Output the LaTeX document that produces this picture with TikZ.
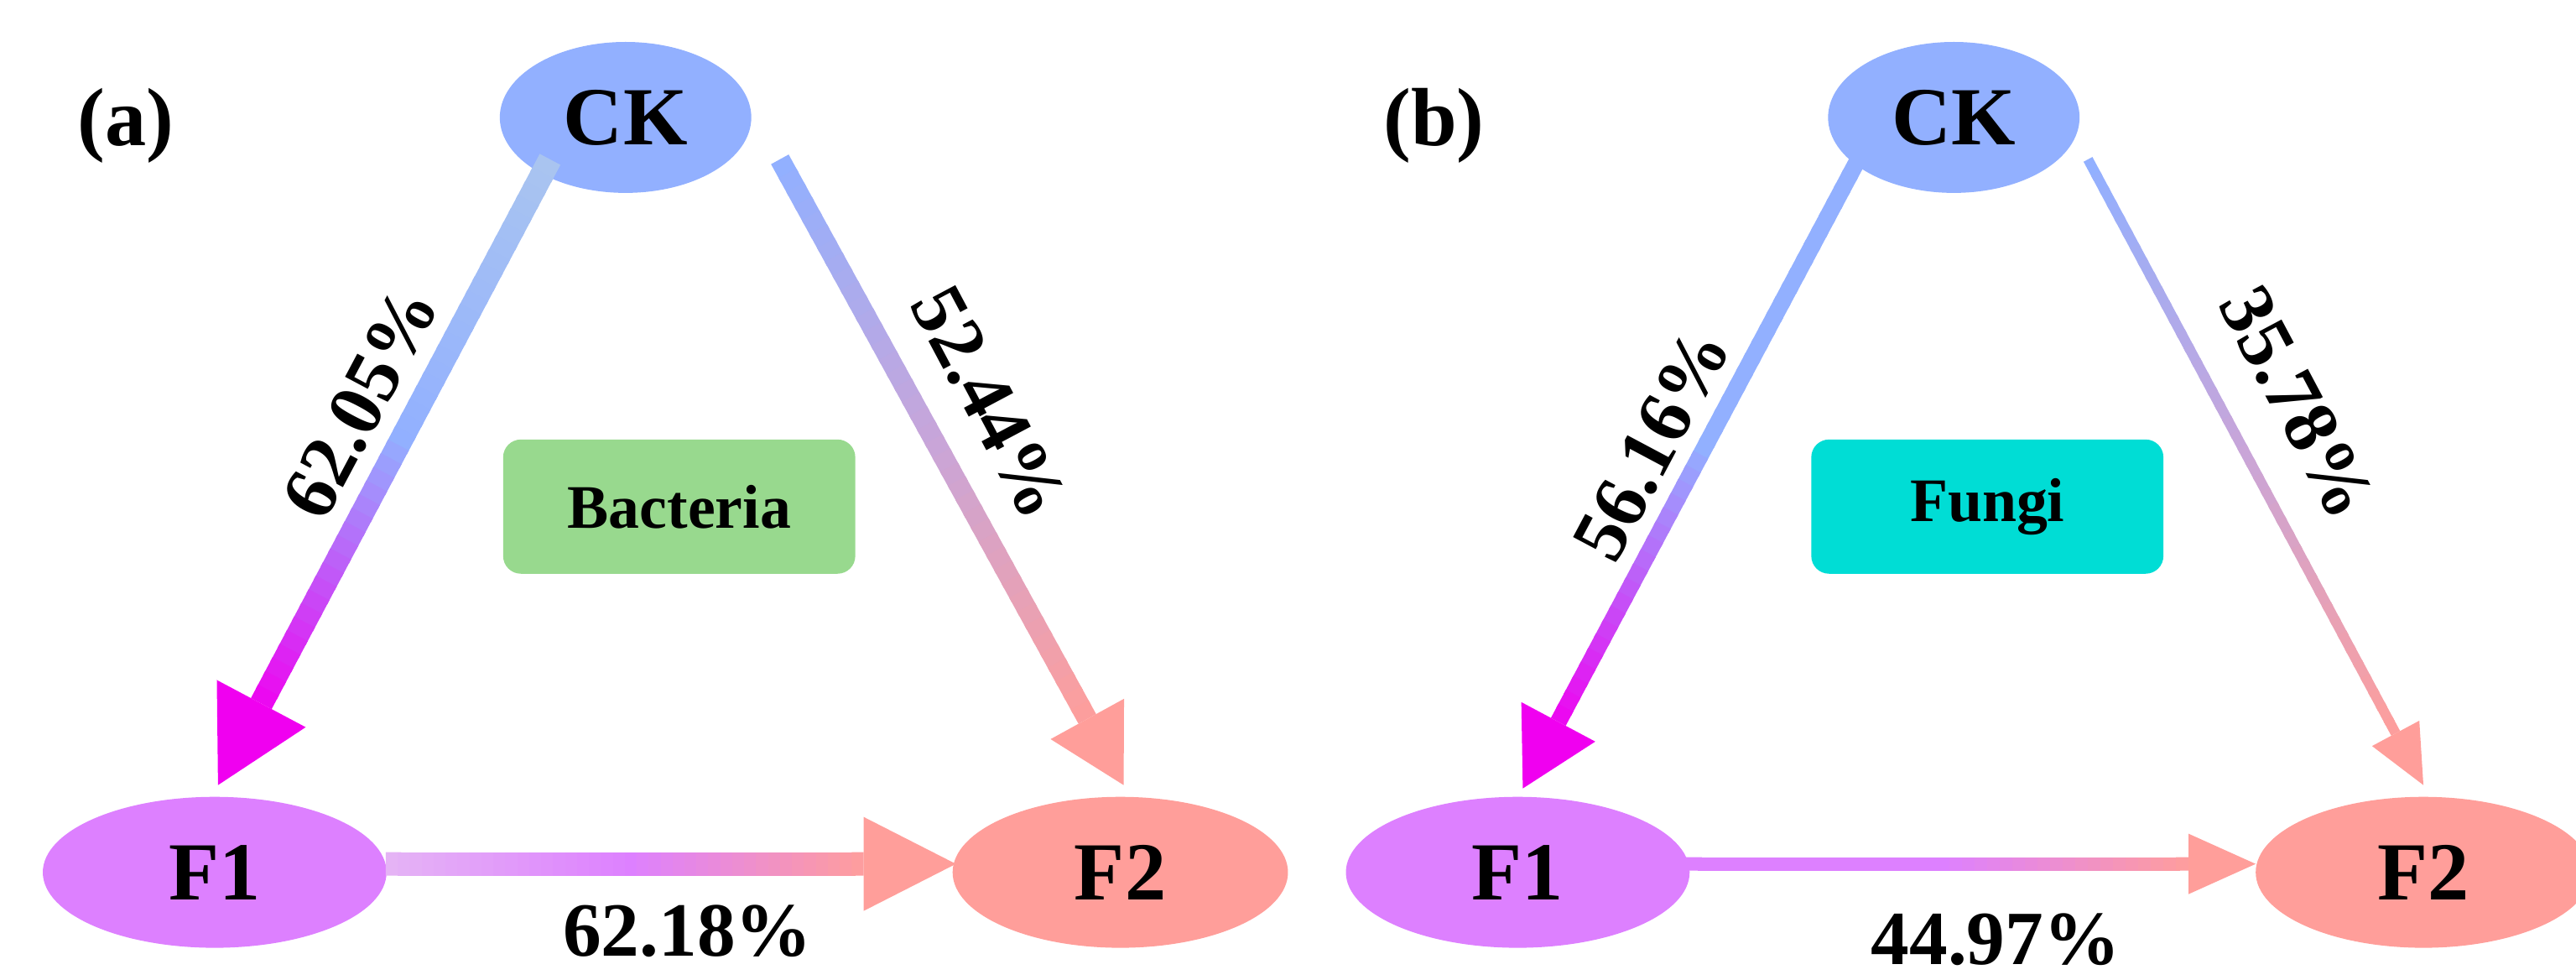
\documentclass[tikz,border=0pt]{standalone}
\usepackage{fontspec}
\setmainfont{Liberation Serif}
\usetikzlibrary{calc,shapes.geometric}
\definecolor{ckblue}{HTML}{92B0FF}
\definecolor{fviolet}{HTML}{DD80FF}
\definecolor{fsalmon}{HTML}{FF9E9A}
\definecolor{bactgreen}{HTML}{98D98E}
\definecolor{fungcyan}{HTML}{00DDD5}
\definecolor{lightblue}{HTML}{A9C4F0}
\definecolor{magent}{HTML}{F000F0}
\definecolor{mauve}{HTML}{C9A5D8}
\definecolor{lightviolet}{HTML}{E5B3F5}
% #1 start, #2 end, #3 #4 #5 colours, #6 width, #7 head length, #8 head half width
\newcommand\gradarrow[8]{%
  \coordinate (hb) at ($(#2)!#7!(#1)$);
  \foreach \i in {0,...,39}{%
    \pgfmathsetmacro\ta{\i/40}\pgfmathsetmacro\tb{min((\i+1.3)/40,1)}%
    \pgfmathtruncatemacro\pc{\i<20 ? 100-5*\i : 200-5*\i}%
    \ifnum\i<20 \colorlet{segc}{#3!\pc!#4}\else\colorlet{segc}{#4!\pc!#5}\fi
    \draw[segc, line width=#6] ($(#1)!\ta!(hb)$) -- ($(#1)!\tb!(hb)$);
  }
  \fill[#5] (#2) -- ($(hb)!#8!90:(#2)$) -- ($(hb)!#8!-90:(#2)$) -- cycle;
}
\tikzset{
  big/.style = {font=\bfseries\fontsize{28}{30}\selectfont},
  pct/.style = {font=\bfseries\fontsize{26}{28}\selectfont},
  grp/.style = {ellipse, inner sep=0pt, minimum height=1.8cm},
  box/.style = {rounded corners=6pt, minimum width=4.2cm, minimum height=1.6cm, font=\bfseries\fontsize{21}{23}\selectfont},
}
\begin{document}
\begin{tikzpicture}[x=0.02cm, y=-0.02cm]
  \useasboundingbox (0,0) rectangle (1536,584);
  % panel a
  \node[big] (la) at (75,75) {(a)};
  \node[grp, fill=ckblue, minimum width=3cm, big] (ack) at (373,70) {CK};
  \node[grp, fill=fviolet, minimum width=4.1cm, big] (af1) at (128,520) {F1};
  \node[grp, fill=fsalmon, minimum width=4cm, big] (af2) at (668,520) {F2};
  \node[box, fill=bactgreen] (bact) at (405,302) {Bacteria};
  \coordinate (a1s) at (328,95); \coordinate (a1e) at (130,468);
  \coordinate (a2s) at (465,95); \coordinate (a2e) at (670,468);
  \coordinate (a3s) at (230,515); \coordinate (a3e) at (570,515);
  \gradarrow{a1s}{a1e}{lightblue}{ckblue}{magent}{0.28cm}{1.1cm}{0.6cm}
  \gradarrow{a2s}{a2e}{ckblue}{mauve}{fsalmon}{0.24cm}{0.9cm}{0.5cm}
  \gradarrow{a3s}{a3e}{lightviolet}{fviolet}{fsalmon}{0.28cm}{1.1cm}{0.56cm}
  \node[pct, rotate=62] (pa1) at (215,240) {62.05\%};
  \node[pct, rotate=-62] (pa2) at (590,240) {52.44\%};
  \node[pct] (pa3) at (410,555) {62.18\%};
  % panel b
  \node[big] (lb) at (855,75) {(b)};
  \node[grp, fill=ckblue, minimum width=3cm, big] (bck) at (1165,70) {CK};
  \node[grp, fill=fviolet, minimum width=4.1cm, big] (bf1) at (905,520) {F1};
  \node[grp, fill=fsalmon, minimum width=4cm, big] (bf2) at (1445,520) {F2};
  \node[box, fill=fungcyan] (fung) at (1185,302) {Fungi};
  \coordinate (b1s) at (1108,95); \coordinate (b1e) at (908,470);
  \coordinate (b2s) at (1245,95); \coordinate (b2e) at (1445,468);
  \coordinate (b3s) at (1005,515); \coordinate (b3e) at (1345,515);
  \gradarrow{b1s}{b1e}{ckblue}{ckblue}{magent}{0.2cm}{0.9cm}{0.5cm}
  \gradarrow{b2s}{b2e}{ckblue}{mauve}{fsalmon}{0.12cm}{0.7cm}{0.32cm}
  \gradarrow{b3s}{b3e}{fviolet}{fviolet}{fsalmon}{0.16cm}{0.8cm}{0.36cm}
  \node[pct, rotate=62] (pb1) at (985,265) {56.16\%};
  \node[pct, rotate=-62] (pb2) at (1370,240) {35.78\%};
  \node[pct] (pb3) at (1190,560) {44.97\%};
\end{tikzpicture}
\end{document}
